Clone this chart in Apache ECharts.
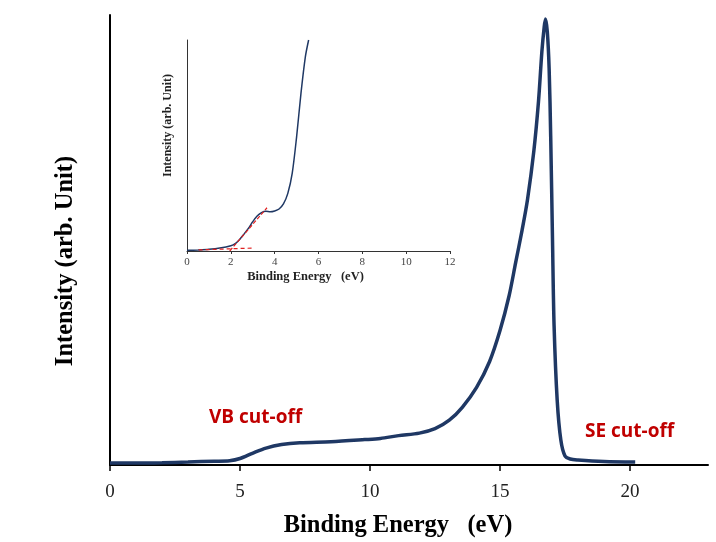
<!DOCTYPE html>
<html>
<head>
<meta charset="utf-8">
<script src="https://cdn.jsdelivr.net/npm/echarts@6/dist/echarts.min.js"></script>
<style>
  html, body { margin: 0; padding: 0; background: #fff; }
  #chart { width: 716px; height: 542px; }
</style>
</head>
<body>
<div id="chart"></div>
<script>
// main spectrum: binding energy (eV) and intensity (arb.)
const energy = [0, 1, 2, 3, 4, 4.6, 5.0, 5.5, 6.0, 6.6, 7.3, 8.5, 9.8, 10.4, 11.1, 11.9, 12.5, 13.05, 13.55, 14.1, 14.6, 15.0, 15.35, 15.6, 15.85, 16.06, 16.3, 16.48, 16.61, 16.7, 16.75, 16.82, 16.89, 16.95, 17.02, 17.08, 17.2, 17.34, 17.5, 17.7, 18.0, 19.0, 20.2];
const intensity = [2, 2, 2.3, 3, 3.8, 4.3, 6.5, 12, 17, 20.5, 22.3, 23.3, 25.5, 26.7, 29.5, 32, 36.5, 45, 58, 78, 104, 135, 170, 203, 236, 267, 315, 365, 415, 440, 448, 435, 398, 330, 225, 140, 65, 25, 9, 6, 5, 3.5, 3];
const mainTicks = [0, 5, 10, 15, 20];

// inset: valence band edge close-up
const insetEnergy = [0, 0.5, 1.0, 1.5, 2.0, 2.2, 2.4, 2.6, 2.8, 3.0, 3.2, 3.4, 3.6, 3.8, 4.0, 4.2, 4.4, 4.6, 4.8, 5.0, 5.2, 5.4, 5.55];
const insetIntensity = [0.3, 0.5, 0.8, 1.4, 2.5, 3.5, 5.5, 8, 10.7, 13.9, 16.6, 18.2, 18.8, 18.6, 19.0, 19.9, 22.3, 27.3, 36.8, 54, 74.7, 92, 100];
const baselineFit = [[0.53, 0.5], [3.0, 1.4]];
const edgeFit = [[1.95, 0], [3.65, 20.5]];

const navy = '#1f3864';
const serif = 'Liberation Serif';

const chart = echarts.init(document.getElementById('chart'));
chart.setOption({
  animation: false,
  backgroundColor: '#fff',
  grid: [
    { left: 110, top: 15, right: 8, bottom: 77, outerBoundsMode: 'none' },
    { left: 187, top: 40, width: 263, height: 211, outerBoundsMode: 'none' }
  ],
  xAxis: [
    {
      gridIndex: 0, type: 'value', min: 0, max: 23,
      splitLine: { show: false },
      axisLine: { lineStyle: { color: '#000', width: 2 } },
      axisTick: { customValues: mainTicks, length: 6, lineStyle: { color: '#000', width: 1.5 } },
      axisLabel: { customValues: mainTicks, color: '#222', fontFamily: serif, fontSize: 19, margin: 18 },
      name: 'Binding Energy   (eV)', nameLocation: 'middle', nameGap: 48,
      nameTextStyle: { fontFamily: serif, fontSize: 24.5, fontWeight: 'bold', color: '#000', padding: [0, 22, 0, 0] }
    },
    {
      gridIndex: 1, type: 'value', min: 0, max: 12, interval: 2,
      splitLine: { show: false },
      axisLine: { lineStyle: { color: '#333', width: 1 } },
      axisTick: { length: 3, lineStyle: { color: '#333' } },
      axisLabel: { color: '#444', fontFamily: serif, fontSize: 11, margin: 6 },
      name: 'Binding Energy   (eV)', nameLocation: 'middle', nameGap: 19,
      nameTextStyle: { fontFamily: serif, fontSize: 12.5, fontWeight: 'bold', color: '#222', padding: [0, 26, 0, 0] }
    }
  ],
  yAxis: [
    {
      gridIndex: 0, type: 'value', min: 0, max: 452,
      splitLine: { show: false }, axisTick: { show: false }, axisLabel: { show: false },
      axisLine: { show: true, lineStyle: { color: '#000', width: 2 } },
      name: 'Intensity (arb. Unit)', nameLocation: 'middle', nameGap: 32,
      nameTextStyle: { fontFamily: serif, fontSize: 24.5, fontWeight: 'bold', color: '#000', padding: [0, 42, 0, 0] }
    },
    {
      gridIndex: 1, type: 'value', min: 0, max: 100,
      splitLine: { show: false }, axisTick: { show: false }, axisLabel: { show: false },
      axisLine: { show: true, lineStyle: { color: '#333', width: 1 } },
      name: 'Intensity (arb. Unit)', nameLocation: 'middle', nameGap: 13,
      nameTextStyle: { fontFamily: serif, fontSize: 12, fontWeight: 'bold', color: '#222', padding: [0, 0, 0, 40] }
    }
  ],
  series: [
    {
      type: 'line', xAxisIndex: 0, yAxisIndex: 0,
      data: energy.map((e, i) => [e, intensity[i]]),
      smooth: 0.3, symbol: 'none',
      lineStyle: { color: navy, width: 3.5 }
    },
    {
      type: 'line', xAxisIndex: 1, yAxisIndex: 1,
      data: insetEnergy.map((e, i) => [e, insetIntensity[i]]),
      smooth: 0.3, symbol: 'none',
      lineStyle: { color: navy, width: 1.5 }
    },
    {
      type: 'line', xAxisIndex: 1, yAxisIndex: 1, data: baselineFit, symbol: 'none',
      lineStyle: { color: '#e02020', width: 1.2, type: [4, 3] }
    },
    {
      type: 'line', xAxisIndex: 1, yAxisIndex: 1, data: edgeFit, symbol: 'none',
      lineStyle: { color: '#e02020', width: 1.2, type: [4, 2] }
    }
  ],
  graphic: [
    {
      type: 'text', left: 209, top: 408,
      style: { text: 'VB cut-off', fill: '#c00000', font: 'bold 19px "Open Sans"' }
    },
    {
      type: 'text', left: 585, top: 422,
      style: { text: 'SE cut-off', fill: '#c00000', font: 'bold 19px "Open Sans"' }
    }
  ]
});
</script>
</body>
</html>
